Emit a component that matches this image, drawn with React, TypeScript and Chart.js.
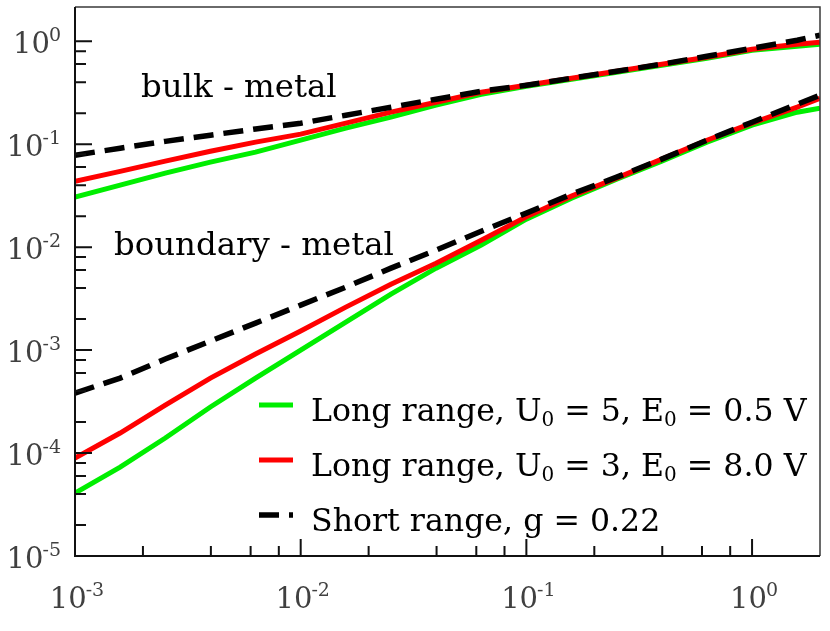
import React, { useEffect, useRef } from "react";
import { Chart, registerables } from "chart.js";

Chart.register(...registerables);

// ---- data ----
const xValues = [
  0.001, 0.001585, 0.002512, 0.003981, 0.00631, 0.01, 0.01585, 0.02512, 0.03981,
  0.0631, 0.1, 0.1585, 0.2512, 0.3981, 0.631, 1.0, 1.585, 2.0,
];

const bulkGreen = [
  0.0306, 0.04, 0.0523, 0.0669, 0.0836, 0.1093, 0.143, 0.1829, 0.2391, 0.3057,
  0.3657, 0.4277, 0.5, 0.5848, 0.6839, 0.8177, 0.894, 0.935,
];
const bulkRed = [
  0.0437, 0.0545, 0.0684, 0.0855, 0.1046, 0.1251, 0.1599, 0.2045, 0.2557, 0.3197,
  0.374, 0.4372, 0.5115, 0.5979, 0.6994, 0.8362, 0.935, 0.978,
];
const bulkBlack = [
  0.0782, 0.0914, 0.1065, 0.1223, 0.1405, 0.1599, 0.1912, 0.2287, 0.2734, 0.327,
  0.374, 0.4372, 0.5115, 0.5979, 0.7151, 0.8551, 1.023, 1.144,
];

const boundaryGreen = [
  4.09e-5, 7.31e-5, 1.4e-4, 2.8e-4, 5.35e-4, 1.0e-3, 1.87e-3, 3.5e-3,
  6.25e-3, 0.01046, 0.0187, 0.0299, 0.04573, 0.06839, 0.1046, 0.1529, 0.2045, 0.2236,
];
const boundaryRed = [
  8.94e-5, 1.564e-4, 2.92e-4, 5.35e-4, 9.15e-4, 1.53e-3, 2.615e-3, 4.37e-3,
  6.99e-3, 0.01169, 0.0197, 0.03127, 0.04677, 0.07151, 0.1093, 0.1599, 0.2287, 0.2796,
];
const boundaryBlack = [
  3.825e-4, 5.35e-4, 8.18e-4, 1.223e-3, 1.829e-3, 2.734e-3, 4.09e-3, 6.25e-3,
  9.35e-3, 0.01429, 0.0214, 0.0327, 0.04781, 0.07151, 0.1093, 0.1635, 0.2445, 0.299,
];

const xTickExps = ["-3", "-2", "-1", "0"];
const yTickExps = ["-5", "-4", "-3", "-2", "-1", "0"];
const minorMultipliers = [2, 4, 6, 8];

type Seg = { t: string; sub?: boolean };
const legendGreen: Seg[] = [
  { t: "Long range, U" }, { t: "0", sub: true }, { t: " = 5, E" }, { t: "0", sub: true }, { t: " = 0.5 V" },
];
const legendRed: Seg[] = [
  { t: "Long range, U" }, { t: "0", sub: true }, { t: " = 3, E" }, { t: "0", sub: true }, { t: " = 8.0 V" },
];
const legendBlack: Seg[] = [{ t: "Short range, g = 0.22" }];

const annotationBulk = "bulk - metal";
const annotationBoundary = "boundary - metal";

// ---- styling ----
const FAMILY = '"DejaVu Serif", serif';
const GREEN = "#00ee00";
const RED = "#ff0000";
const BLACK = "#000000";
const DASH = [20, 10];

function segFont(s: Seg, size: number) {
  return `${s.sub ? Math.round(size * 0.62) : size}px ${FAMILY}`;
}
function richWidth(ctx: CanvasRenderingContext2D, segs: Seg[], size: number) {
  let w = 0;
  for (const s of segs) {
    ctx.font = segFont(s, size);
    w += ctx.measureText(s.t).width;
  }
  return w;
}
function drawRich(ctx: CanvasRenderingContext2D, segs: Seg[], x: number, y: number, size: number) {
  let cx = x;
  ctx.textAlign = "left";
  ctx.textBaseline = "alphabetic";
  for (const s of segs) {
    ctx.font = segFont(s, size);
    ctx.fillText(s.t, cx, s.sub ? y + size * 0.16 : y);
    cx += ctx.measureText(s.t).width;
  }
}

const decorPlugin = {
  id: "decor",
  afterDatasetsDraw(chart: any) {
    const { ctx, chartArea: a, scales } = chart;
    const xs = scales.x;
    const ys = scales.y;
    ctx.save();

    // frame
    ctx.lineCap = "butt";
    ctx.strokeStyle = "#3a3a3a";
    ctx.lineWidth = 1.5;
    ctx.beginPath();
    ctx.moveTo(a.left, a.top);
    ctx.lineTo(a.right, a.top);
    ctx.lineTo(a.right, a.bottom);
    ctx.stroke();
    ctx.strokeStyle = "#111";
    ctx.lineWidth = 2;
    ctx.beginPath();
    ctx.moveTo(a.left, a.top);
    ctx.lineTo(a.left, a.bottom);
    ctx.lineTo(a.right, a.bottom);
    ctx.stroke();

    // inward ticks
    ctx.strokeStyle = "#111";
    ctx.lineWidth = 2;
    ctx.beginPath();
    for (const e of yTickExps) {
      const dec = Math.pow(10, Number(e));
      const py = ys.getPixelForValue(dec);
      ctx.moveTo(a.left, py);
      ctx.lineTo(a.left + 17, py);
      if (Number(e) < 0) {
        for (const m of minorMultipliers) {
          const p = ys.getPixelForValue(m * dec);
          ctx.moveTo(a.left, p);
          ctx.lineTo(a.left + 11, p);
        }
      }
    }
    for (const e of xTickExps) {
      const dec = Math.pow(10, Number(e));
      const px = xs.getPixelForValue(dec);
      ctx.moveTo(px, a.bottom);
      ctx.lineTo(px, a.bottom - 17);
      if (Number(e) < 0) {
        for (const m of minorMultipliers) {
          const p = xs.getPixelForValue(m * dec);
          ctx.moveTo(p, a.bottom);
          ctx.lineTo(p, a.bottom - 10);
        }
      }
    }
    ctx.stroke();

    // tick labels: 10^e
    const base = 29;
    const sup = 19;
    ctx.fillStyle = "#404040";
    ctx.textBaseline = "alphabetic";
    const measureLabel = (e: string) => {
      ctx.font = `${base}px ${FAMILY}`;
      const w1 = ctx.measureText("10").width;
      ctx.font = `${sup}px ${FAMILY}`;
      const w2 = ctx.measureText(e).width;
      return [w1, w2];
    };
    const drawLabel = (e: string, left: number, baseline: number) => {
      const [w1] = measureLabel(e);
      ctx.textAlign = "left";
      ctx.font = `${base}px ${FAMILY}`;
      ctx.fillText("10", left, baseline);
      ctx.font = `${sup}px ${FAMILY}`;
      ctx.fillText(e, left + w1 - 1, baseline - 12);
    };
    for (const e of yTickExps) {
      const py = ys.getPixelForValue(Math.pow(10, Number(e)));
      const [w1, w2] = measureLabel(e);
      drawLabel(e, a.left - 14 - (w1 + w2 - 1), py + 12);
    }
    for (const e of xTickExps) {
      const px = xs.getPixelForValue(Math.pow(10, Number(e)));
      const [w1, w2] = measureLabel(e);
      drawLabel(e, px + 2 - (w1 + w2 - 1) / 2, a.bottom + 52);
    }

    // annotations
    ctx.fillStyle = "#000";
    ctx.font = `40px ${FAMILY}`;
    const annSize = Math.round((40 * 280) / ctx.measureText(annotationBoundary).width * 10) / 10;
    ctx.font = `${annSize}px ${FAMILY}`;
    ctx.textAlign = "left";
    ctx.fillText(annotationBulk, 141, 97);
    ctx.fillText(annotationBoundary, 114, 255);

    // legend
    const legendSize = Math.round(((40 * 495) / richWidth(ctx, legendGreen, 40)) * 10) / 10;
    const rows: [Seg[], string, number[]][] = [
      [legendGreen, GREEN, []],
      [legendRed, RED, []],
      [legendBlack, BLACK, DASH],
    ];
    rows.forEach(([segs, color, dash], i) => {
      const ly = 405 + i * 55;
      ctx.strokeStyle = color;
      ctx.lineWidth = i === 2 ? 5.5 : 5;
      ctx.setLineDash(dash);
      ctx.beginPath();
      ctx.moveTo(259, ly);
      ctx.lineTo(293, ly);
      ctx.stroke();
      ctx.setLineDash([]);
      ctx.fillStyle = "#000";
      drawRich(ctx, segs, 311, ly + 16, legendSize);
    });

    ctx.restore();
  },
};

function series(values: number[]) {
  return xValues.map((x, i) => ({ x, y: values[i] }));
}

export default function App() {
  const ref = useRef<HTMLCanvasElement | null>(null);
  useEffect(() => {
    if (!ref.current) return;
    const line = (data: number[], color: string, order: number, dashed: boolean) => ({
      data: series(data),
      borderColor: color,
      backgroundColor: color,
      borderWidth: dashed ? 5.5 : 5,
      borderDash: dashed ? DASH : [],
      pointRadius: 0,
      tension: 0,
      fill: false,
      order,
    });
    const chart = new Chart(ref.current, {
      type: "line",
      data: {
        datasets: [
          line(bulkGreen, GREEN, 3, false),
          line(bulkRed, RED, 2, false),
          line(bulkBlack, BLACK, 1, true),
          line(boundaryGreen, GREEN, 3, false),
          line(boundaryRed, RED, 2, false),
          line(boundaryBlack, BLACK, 1, true),
        ],
      },
      options: {
        responsive: false,
        animation: false,
        devicePixelRatio: 1,
        layout: { padding: { left: 75, top: 7, right: 10, bottom: 75 } },
        plugins: { legend: { display: false }, tooltip: { enabled: false } },
        scales: {
          x: { type: "logarithmic", min: 0.001, max: 2.0, display: false },
          y: { type: "logarithmic", min: 1e-5, max: 2.15, display: false },
        },
      } as any,
      plugins: [decorPlugin],
    });
    return () => chart.destroy();
  }, []);
  return (
    <div style={{ position: "fixed", left: 0, top: 0, width: 830, height: 631, background: "#fff" }}>
      <canvas ref={ref} width={830} height={631} style={{ width: 830, height: 631, display: "block" }} />
    </div>
  );
}
